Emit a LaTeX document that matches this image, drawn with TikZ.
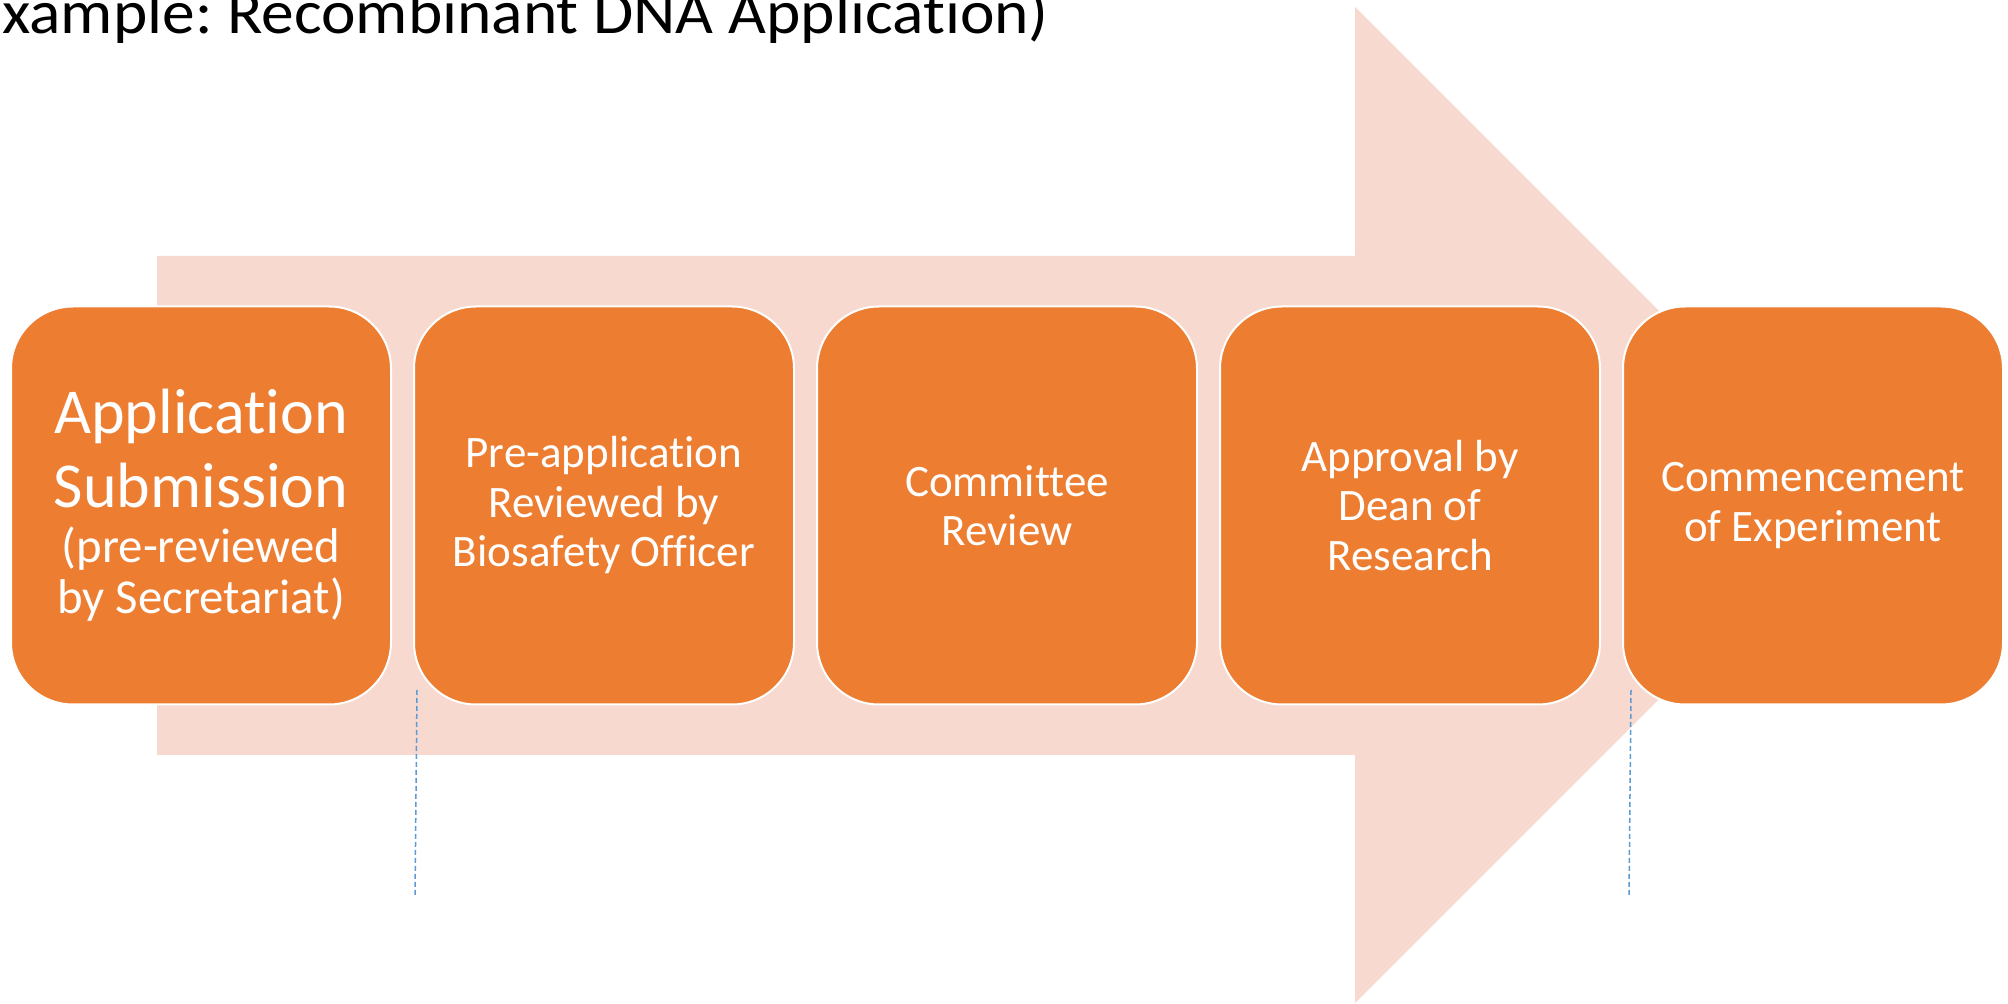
\documentclass[tikz,border=0pt]{standalone}
\usepackage{fontspec}
\setmainfont{Carlito}[Ligatures=NoCommon]
\usepackage{graphicx}
\usetikzlibrary{positioning}
\definecolor{boxorange}{RGB}{237,125,49}
\definecolor{paleorange}{RGB}{247,217,207}
\definecolor{guideblue}{RGB}{91,155,213}
\frenchspacing

\begin{document}
\begin{tikzpicture}[x=0.5pt,y=-0.5pt,
                stage/.style={draw=white,line width=1pt,fill=boxorange,rounded corners=31pt,
                    minimum width=190pt,minimum height=199pt,inner sep=0pt,align=center,
                    text=white,font=\fontsize{22.5}{24.75}\selectfont},
                guide/.style={guideblue,line width=0.75pt,dash pattern=on 2.5pt off 1.5pt},
                node distance=10.5pt]
                \useasboundingbox (0,0) rectangle (2008,1004);
                % big pale arrow behind the steps
                \fill[paleorange] (157,256) -- (1355,256) -- (1355,7) -- (1853,505)
                    -- (1355,1003) -- (1355,755) -- (157,755) -- cycle;
                \node[anchor=base west,inner sep=0pt](title) at (2,34)
                    {\fontsize{31}{36}\selectfont\scalebox{1.055}[1]{xample: Recombinant DNA Application)}};
                \node[stage](1) at (201,505.5){\fontsize{32}{26}\selectfont Application\\[8.5pt]
                    \fontsize{32}{26}\selectfont Submission\\[2.5pt]
                    \fontsize{24.4}{26}\selectfont (pre-reviewed\\[1pt]
                    \fontsize{24.4}{26}\selectfont by Secretariat)};
                \node[stage](2)[right=of 1]{Pre-application\\ Reviewed by\\ Biosafety Officer};
                \node[stage](3)[right=of 2]{Committee\\ Review};
                \node[stage](4)[right=of 3]{Approval by\\ Dean of\\ Research};
                \node[stage](5)[right=of 4]{Commencement\\ of Experiment};
                % dotted guides
                \coordinate (g1) at (417,690);
                \coordinate (g2) at (415,897);
                \coordinate (g3) at (1631,690);
                \coordinate (g4) at (1629,897);
                \draw[guide] (g1) -- (g2);
                \draw[guide] (g3) -- (g4);
            \end{tikzpicture}
\end{document}
